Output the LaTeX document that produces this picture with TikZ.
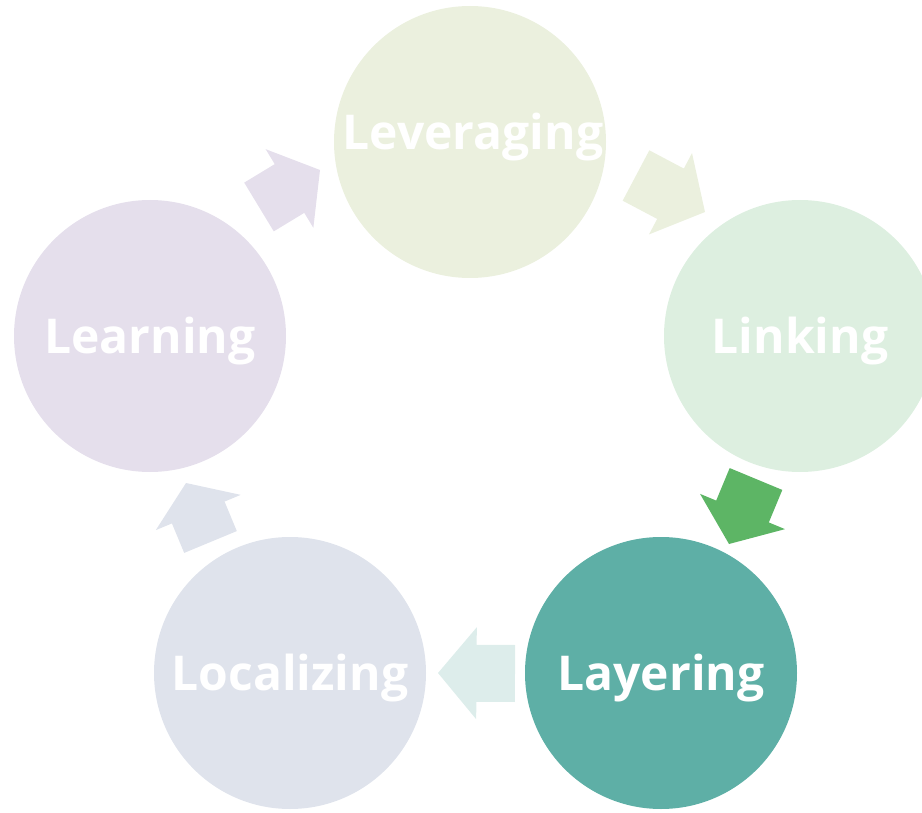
\documentclass[tikz,border=0pt]{standalone}
\usepackage{fontspec}
\setmainfont{Open Sans}
\usetikzlibrary{calc}
\definecolor{cLev}{HTML}{EBF0DE}
\definecolor{cLink}{HTML}{DDEFE0}
\definecolor{cLay}{HTML}{5EAFA6}
\definecolor{cLoc}{HTML}{DFE3EC}
\definecolor{cLearn}{HTML}{E5DFEC}
\definecolor{aLay}{HTML}{DDEDEB}
\definecolor{aLink}{HTML}{5DB565}
\tikzset{
  label text/.style={text=white, font=\bfseries\fontsize{48}{48}\selectfont,
    text height=34.5pt, text depth=0pt, inner sep=0pt},
  stage/.style={circle, minimum size=272pt, inner sep=0pt, label text},
}
\newcommand\blockarrow[3]{%
  \coordinate (bam) at ($(#2)!0.5!(#3)$);
  \fill[#1] ($(#2)!28.5pt!90:(#3)$) -- ($(bam)!28.5pt!90:(#3)$) -- ($(bam)!46pt!90:(#3)$)
    -- (#3) -- ($(bam)!46pt!-90:(#3)$) -- ($(bam)!28.5pt!-90:(#3)$) -- ($(#2)!28.5pt!-90:(#3)$) -- cycle;
}
\begin{document}
\begin{tikzpicture}[x=1pt,y=-1pt]
\useasboundingbox (0,0) rectangle (922,813);
\node[stage, fill=cLev] (lev) at (470,142) {};
\node[label text] (levt) at (473,132.5) {Leveraging};
\node[stage, fill=cLink] (link) at (800,336) {Linking};
\node[stage, fill=cLay] (lay) at (661,673) {Layering};
\node[stage, fill=cLoc] (loc) at (290,673) {Localizing};
\node[stage, fill=cLearn] (learn) at (150,336) {Learning};
\coordinate (a1t) at (259,207); \coordinate (a1h) at (320,170);
\coordinate (a2t) at (636,175.5); \coordinate (a2h) at (705,212);
\coordinate (a3t) at (756,479); \coordinate (a3h) at (729,544);
\coordinate (a4t) at (515,673.5); \coordinate (a4h) at (438,673);
\coordinate (a5t) at (210.5,542); \coordinate (a5h) at (186,483);
\blockarrow{cLearn}{a1t}{a1h}
\blockarrow{cLev}{a2t}{a2h}
\blockarrow{aLink}{a3t}{a3h}
\blockarrow{aLay}{a4t}{a4h}
\blockarrow{cLoc}{a5t}{a5h}
\end{tikzpicture}
\end{document}
